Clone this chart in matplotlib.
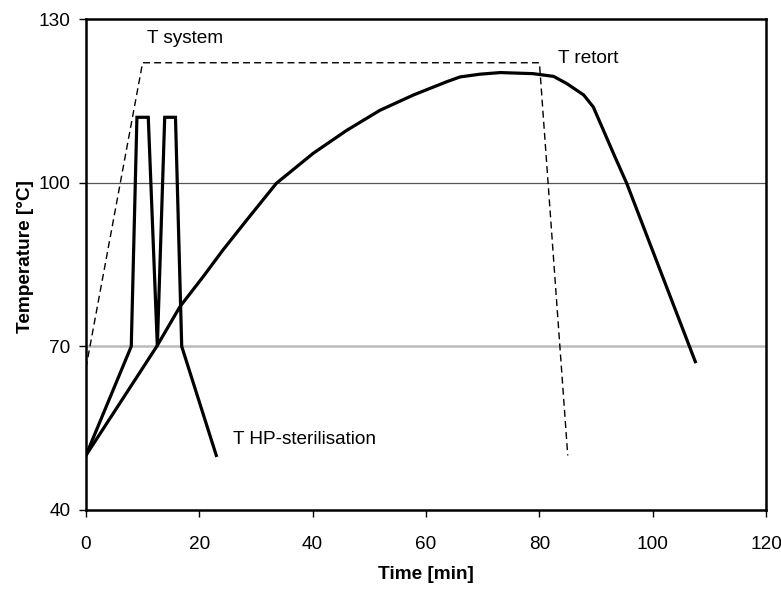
import matplotlib.pyplot as plt

plt.rcParams['font.family'] = ['Liberation Sans', 'DejaVu Sans']

# retort temperature (core of the product)
retort_time = [0, 12.5, 16.6, 20.7, 24.2, 28.4, 33.6, 40.1, 46.0, 51.9, 57.8, 63.6,
               66.0, 69.5, 73.1, 78.9, 82.5, 84.8, 87.8, 89.5, 91.3, 93.3, 95.4, 107.5]
retort_temp = [50, 70, 77.3, 82.8, 87.7, 93.2, 99.9, 105.4, 109.6, 113.3, 116.1, 118.5,
               119.4, 119.9, 120.2, 120.0, 119.5, 118.2, 116.1, 113.9, 109.6, 104.8, 99.9, 67.2]

# HP sterilisation with two pressure pulses
hp_time = [0, 8, 9, 11, 12.6, 13.9, 15.8, 16.9, 23]
hp_temp = [50, 70, 112, 112, 70, 112, 112, 70, 50]

# system temperature
sys_time = [0, 10, 80, 85]
sys_temp = [66, 122, 122, 50]

fs = 13.7

fig = plt.figure(figsize=(7.81, 5.9), dpi=100)
ax = fig.add_axes([0.110, 0.1356, 0.871, 0.832])

ax.axhline(100, color='#555555', lw=0.9, zorder=1)
ax.axhline(70, color='#bbbbbb', lw=1.8, zorder=1)

ax.plot(sys_time, sys_temp, color='black', lw=1.0, dashes=(5, 3), zorder=2)
ax.plot(hp_time, hp_temp, color='black', lw=2.3, zorder=3, solid_joinstyle='miter')
ax.plot(retort_time, retort_temp, color='black', lw=2.3, zorder=3)

ax.text(10.8, 125.65, 'T system', fontsize=fs, va='baseline')
ax.text(83.2, 122.0, 'T retort', fontsize=fs, va='baseline')
ax.text(26.0, 52.1, 'T HP-sterilisation', fontsize=fs, va='baseline')

ax.set_xlim(0, 120)
ax.set_ylim(40, 130)
ax.set_xticks([0, 20, 40, 60, 80, 100, 120])
ax.set_yticks([40, 70, 100, 130])
ax.tick_params(labelsize=fs, length=5, width=1, direction='out', pad=6)
ax.tick_params(axis='x', pad=14)

for s in ax.spines.values():
    s.set_linewidth(1.8)

ax.set_xlabel('Time [min]', fontsize=fs, fontweight='bold', labelpad=9)
ax.set_ylabel('Temperature [°C]', fontsize=fs, fontweight='bold')
ax.yaxis.set_label_coords(-0.077, 0.517)

fig.savefig('out.png', dpi=100)
